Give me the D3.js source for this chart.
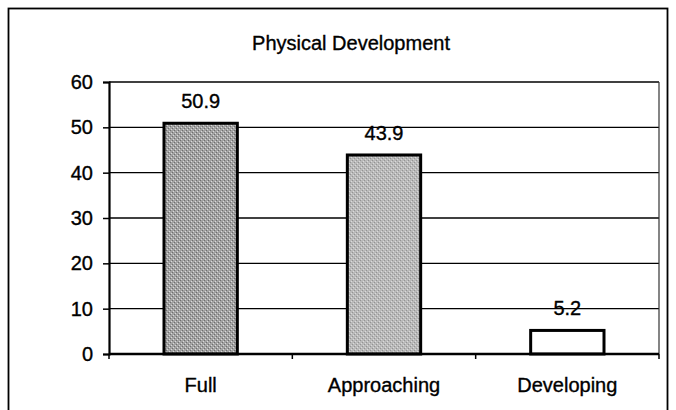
<!DOCTYPE html>
<html><head><meta charset="utf-8">
<script src="https://cdn.jsdelivr.net/npm/d3@7"></script>
<style>html,body{margin:0;padding:0;background:#fff;}svg{display:block;font-family:"Liberation Sans",Arial,sans-serif;}
svg text{stroke:#000;stroke-width:0.35px;}</style>
</head><body>
<svg id="c" width="676" height="410"></svg>
<script>
const title = "Physical Development";
const categories = ["Full", "Approaching", "Developing"];
const values = [50.9, 43.9, 5.2];
const labels = ["50.9", "43.9", "5.2"];
const yTicks = [0, 10, 20, 30, 40, 50, 60];
const fills = ["#a2a2a2", "#b9b9b9", "#ffffff"];

const svg = d3.select("#c");
const m = {left: 109, right: 659, top: 82, bottom: 354};
const FS = 20;

// stippled patterns for bars
const defs = svg.append("defs");
fills.forEach((f, i) => {
  const p = defs.append("pattern").attr("id", "pat" + i).attr("patternUnits", "userSpaceOnUse")
    .attr("width", 4).attr("height", 4);
  p.append("rect").attr("width", 4).attr("height", 4).attr("fill", f);
  if (i < 2) {
    const d = i === 0 ? "#6e6e6e" : "#939393";
    p.append("rect").attr("x", 0).attr("y", 0).attr("width", 1).attr("height", 1).attr("fill", d);
    p.append("rect").attr("x", 2).attr("y", 2).attr("width", 1).attr("height", 1).attr("fill", d);
    p.append("rect").attr("x", 1).attr("y", 3).attr("width", 1).attr("height", 1).attr("fill", "#dadada");
    p.append("rect").attr("x", 3).attr("y", 1).attr("width", 1).attr("height", 1).attr("fill", "#dadada");
  }
});

// outer frame
svg.append("rect").attr("x", 8.5).attr("y", 8.5).attr("width", 659).attr("height", 420)
  .attr("fill", "none").attr("stroke", "#000").attr("stroke-width", 1.8);

const x = d3.scaleBand().domain(categories).range([m.left, m.right]).paddingInner(0.6).paddingOuter(0.3);
const xb = d3.scaleBand().domain(categories).range([m.left, m.right]);
const y = d3.scaleLinear().domain([0, 60]).range([m.bottom, m.top]);

// gridlines
svg.append("g").selectAll("line").data(yTicks.filter(t => t > 0)).join("line")
  .attr("x1", m.left).attr("x2", m.right)
  .attr("y1", d => y(d)).attr("y2", d => y(d))
  .attr("stroke", "#000").attr("stroke-width", 1.3);

// right border
svg.append("line").attr("x1", m.right).attr("x2", m.right).attr("y1", m.top).attr("y2", m.bottom)
  .attr("stroke", "#333").attr("stroke-width", 1.2);

// bars
svg.append("g").selectAll("rect").data(values).join("rect")
  .attr("x", (d, i) => x(categories[i]))
  .attr("y", d => y(d))
  .attr("width", x.bandwidth())
  .attr("height", d => y(0) - y(d))
  .attr("fill", (d, i) => "url(#pat" + i + ")")
  .attr("stroke", "#000").attr("stroke-width", 3);

// value labels
svg.append("g").selectAll("text").data(values).join("text")
  .attr("x", (d, i) => x(categories[i]) + x.bandwidth() / 2)
  .attr("y", d => y(d) - 15)
  .attr("text-anchor", "middle").attr("font-size", FS).attr("fill", "#000")
  .text((d, i) => labels[i]);

// y axis
const yAxis = svg.append("g").attr("transform", `translate(${m.left},0)`)
  .call(d3.axisLeft(y).tickValues(yTicks).tickSize(6).tickPadding(10).tickFormat(d3.format("d")));
yAxis.select(".domain").attr("stroke", "#000").attr("stroke-width", 2.2);
yAxis.selectAll(".tick line").attr("stroke", "#000").attr("stroke-width", 1.5);
yAxis.selectAll("text").attr("font-size", FS).attr("fill", "#000").attr("font-family", "Liberation Sans, Arial, sans-serif");

// x axis
const xAxis = svg.append("g").attr("transform", `translate(0,${m.bottom})`)
  .call(d3.axisBottom(xb).tickSize(0).tickPadding(20));
xAxis.select(".domain").remove();
svg.append("line").attr("x1", m.left).attr("x2", m.right).attr("y1", m.bottom).attr("y2", m.bottom)
  .attr("stroke", "#000").attr("stroke-width", 2.5);
const boundaries = [m.left, ...categories.map(c => xb(c) + xb.bandwidth())];
svg.append("g").selectAll("line").data(boundaries).join("line")
  .attr("x1", d => d).attr("x2", d => d).attr("y1", m.bottom).attr("y2", m.bottom + 5)
  .attr("stroke", "#000").attr("stroke-width", 1.5);
xAxis.selectAll("text").attr("font-size", FS).attr("fill", "#000").attr("font-family", "Liberation Sans, Arial, sans-serif")
  .attr("dy", "0.35em").attr("y", 31);

// title
svg.append("text").attr("x", 351).attr("y", 50).attr("text-anchor", "middle")
  .attr("font-size", FS).attr("fill", "#000").text(title);
</script>
</body></html>
